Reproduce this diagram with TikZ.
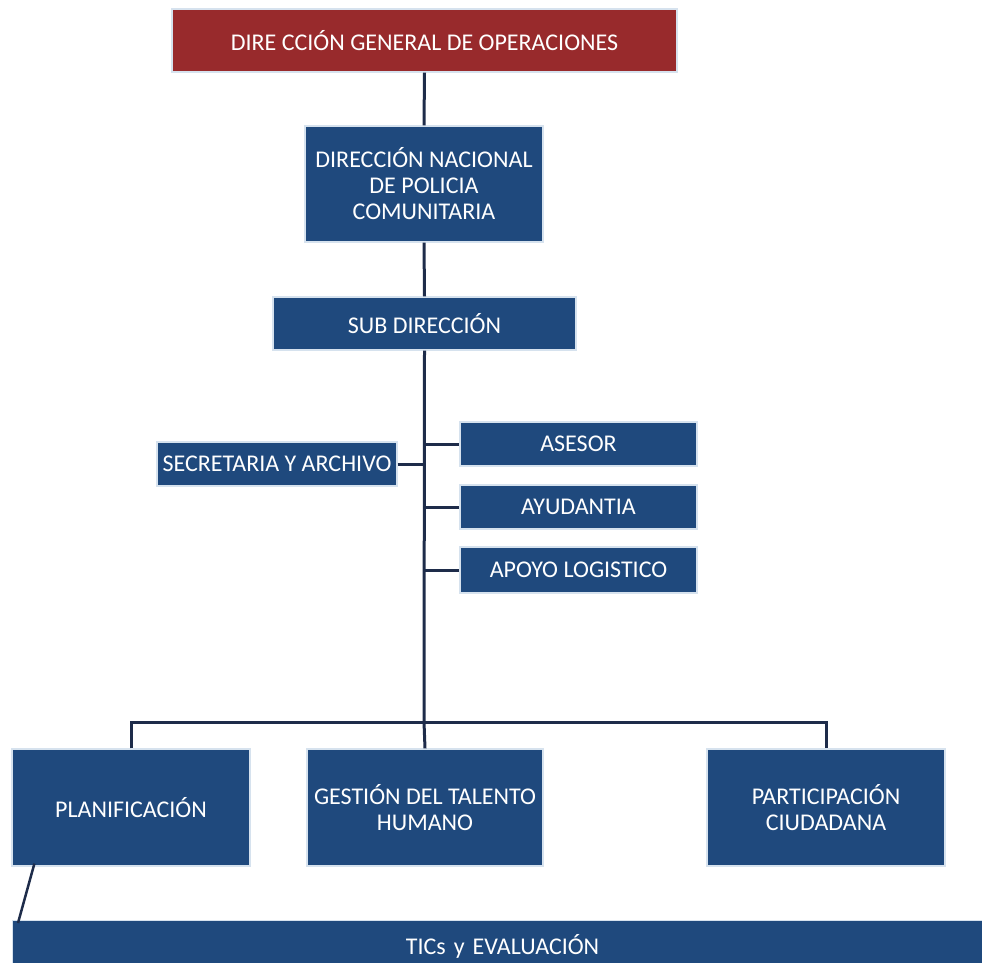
\documentclass[tikz,border=0pt]{standalone}
\usepackage{fontspec}
\setmainfont{Carlito}
\definecolor{boxblue}{RGB}{31,73,125}
\definecolor{boxred}{RGB}{152,42,44}
\definecolor{edgeglow}{RGB}{214,226,238}
\definecolor{linkline}{RGB}{30,44,74}
\tikzset{
  unit/.style={draw=edgeglow, line width=1.2pt, fill=boxblue, text=white,
    font=\fontsize{24}{26}\selectfont, align=center, inner sep=0pt},
  headunit/.style={unit, fill=boxred},
  link/.style={draw=linkline, line width=3pt}
}
\begin{document}
\begin{tikzpicture}[x=1pt,y=-1pt]
\useasboundingbox (0,0) rectangle (982,963);

% boxes (centre, width x height in px)
\node[headunit, minimum width=505pt, minimum height=63pt] (dgo) at (424.5,40.5) {DIRE CCIÓN GENERAL DE OPERACIONES};
\node[unit, minimum width=238pt, minimum height=116pt] (dnpc) at (424,184) {DIRECCIÓN NACIONAL\\DE POLICIA\\COMUNITARIA};
\node[unit, minimum width=303pt, minimum height=53pt] (sub) at (424.5,323.5) {SUB DIRECCIÓN};
\node[unit, minimum width=240pt, minimum height=44pt] (sec) at (277,464) {SECRETARIA Y ARCHIVO};
\node[unit, minimum width=237pt, minimum height=44pt] (ase) at (578.5,444) {ASESOR};
\node[unit, minimum width=237pt, minimum height=44pt] (ayu) at (578.5,507) {AYUDANTIA};
\node[unit, minimum width=237pt, minimum height=46pt] (apo) at (578.5,570) {APOYO LOGISTICO};
\node[unit, minimum width=238pt, minimum height=117pt] (pla) at (131,807.5) {PLANIFICACIÓN};
\node[unit, minimum width=236pt, minimum height=117pt] (ges) at (425,807.5) {GESTIÓN DEL TALENTO\\HUMANO};
\node[unit, minimum width=238pt, minimum height=117pt] (par) at (826,807.5) {PARTICIPACIÓN\\CIUDADANA};
\node[unit, minimum width=980pt, minimum height=52pt, anchor=north west, text width=970pt] (tic) at (12,920) {TICs y EVALUACIÓN};

% junction of the lower branch
\coordinate (fork) at (424,722);

% connectors
\draw[link] (dgo.south) -- (dnpc.north);
\draw[link] (dnpc.south) -- (sub.north);
\draw[link] (sub.south) -- (fork);
\draw[link] (sec.east) -- (sub.south |- sec.east);
\draw[link] (sub.south |- ase.west) -- (ase.west);
\draw[link] (sub.south |- ayu.west) -- (ayu.west);
\draw[link] (sub.south |- apo.west) -- (apo.west);
\draw[link] (pla.north) |- (fork) -| (par.north);
\draw[link] (fork) -- (ges.north);
\draw[link, line width=2.5pt] ([xshift=23pt,yshift=3pt]pla.south west) -- ([xshift=6pt,yshift=-3pt]tic.north west);
\end{tikzpicture}
\end{document}
